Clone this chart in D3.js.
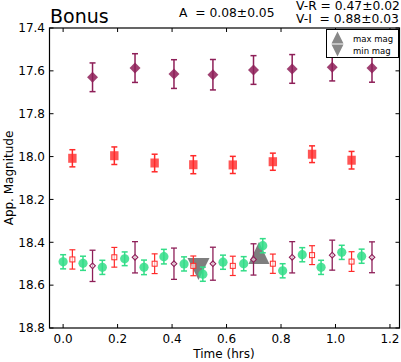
<!DOCTYPE html>
<html>
<head>
<meta charset="utf-8">
<script src="https://cdn.jsdelivr.net/npm/d3@7"></script>
<style>
  body { margin: 0; background: #fff; }
  svg { display: block; font-family: "DejaVu Sans", sans-serif; }
</style>
</head>
<body>
<div id="chart"></div>
<script>
const width = 401, height = 362;

// V band (green circles)
const vTime = [0.0, 0.073, 0.144, 0.226, 0.297, 0.37, 0.444, 0.513, 0.587, 0.663, 0.733, 0.806, 0.878, 0.947, 1.023, 1.096];
const vMag  = [18.491, 18.498, 18.517, 18.477, 18.517, 18.467, 18.501, 18.549, 18.493, 18.5, 18.416, 18.533, 18.458, 18.517, 18.447, 18.465];
const vErr  = [0.033, 0.033, 0.033, 0.032, 0.034, 0.034, 0.033, 0.033, 0.033, 0.033, 0.033, 0.033, 0.033, 0.033, 0.033, 0.033];

// R band (red squares), filled = measured, open = shifted by V-R
const rTime = [0.034, 0.188, 0.336, 0.478, 0.623, 0.77, 0.914, 1.059];
const rMag  = [18.008, 17.996, 18.03, 18.038, 18.039, 18.024, 17.989, 18.017];
const rErr  = [0.040, 0.041, 0.041, 0.042, 0.040, 0.040, 0.039, 0.041];
const rShiftMag = [18.48, 18.47, 18.50, 18.51, 18.51, 18.50, 18.46, 18.49];
const rShiftErr = [0.045, 0.046, 0.046, 0.046, 0.045, 0.045, 0.044, 0.046];

// I band (purple diamonds), filled = measured, open = shifted by V-I
const iTime = [0.108, 0.264, 0.407, 0.55, 0.699, 0.841, 0.988, 1.134];
const iMag  = [17.63, 17.587, 17.615, 17.618, 17.596, 17.591, 17.583, 17.587];
const iErr  = [0.067, 0.067, 0.067, 0.071, 0.067, 0.067, 0.064, 0.066];
const iShiftMag = [18.51, 18.47, 18.50, 18.50, 18.48, 18.47, 18.46, 18.47];
const iShiftErr = [0.073, 0.073, 0.073, 0.077, 0.073, 0.073, 0.070, 0.072];

// extrema
const maxTime = 0.719, maxMag = 18.45;
const minTime = 0.497, minMag = 18.525;

const yTicks = [17.4, 17.6, 17.8, 18.0, 18.2, 18.4, 18.6, 18.8];
const xTicks = [0.0, 0.2, 0.4, 0.6, 0.8, 1.0, 1.2];

const cGreen = "#33dd88", cRed = "#ff2a2a", cPurple = "#8e1f58";

const x = d3.scaleLinear().domain([-0.05, 1.235]).range([49.5, 399.5]);
const y = d3.scaleLinear().domain([17.4, 18.8]).range([28, 328]);

const svg = d3.select("#chart").append("svg")
    .attr("width", width)
    .attr("height", height);

function rows(t, m, e) {
  return t.map(function(d, i) { return {t: d, m: m[i], e: e[i]}; });
}

function triPath(cx, cy, w, h, up) {
  const s = up ? 1 : -1;
  return "M" + cx + "," + (cy - s * h / 2) +
         "L" + (cx - w / 2) + "," + (cy + s * h / 2) +
         "L" + (cx + w / 2) + "," + (cy + s * h / 2) + "Z";
}

// frame
svg.append("rect")
    .attr("x", x.range()[0]).attr("y", 28)
    .attr("width", x.range()[1] - x.range()[0]).attr("height", 300)
    .attr("fill", "none").attr("stroke", "#000").attr("stroke-width", 1.2);

// inward ticks on all four sides
const tickLen = 4;
yTicks.forEach(function(v) {
  svg.append("line").attr("x1", x.range()[0]).attr("x2", x.range()[0] + tickLen)
     .attr("y1", y(v)).attr("y2", y(v)).attr("stroke", "#000");
  svg.append("line").attr("x1", x.range()[1]).attr("x2", x.range()[1] - tickLen)
     .attr("y1", y(v)).attr("y2", y(v)).attr("stroke", "#000");
  svg.append("text").attr("x", 45).attr("y", y(v)).attr("dy", "0.36em")
     .attr("text-anchor", "end").attr("font-size", 12).text(d3.format(".1f")(v));
});
xTicks.forEach(function(v) {
  svg.append("line").attr("x1", x(v)).attr("x2", x(v))
     .attr("y1", 328).attr("y2", 328 - tickLen).attr("stroke", "#000");
  svg.append("line").attr("x1", x(v)).attr("x2", x(v))
     .attr("y1", 28).attr("y2", 28 + tickLen).attr("stroke", "#000");
  svg.append("text").attr("x", x(v)).attr("y", 343)
     .attr("text-anchor", "middle").attr("font-size", 12).text(d3.format(".1f")(v));
});

// axis labels
svg.append("text").attr("x", 224).attr("y", 358).attr("text-anchor", "middle")
   .attr("font-size", 12).text("Time (hrs)");
svg.append("text").attr("transform", "translate(13,178)rotate(-90)")
   .attr("text-anchor", "middle").attr("font-size", 12).text("App. Magnitude");

// titles
svg.append("text").attr("x", 50).attr("y", 23).attr("font-size", 19).text("Bonus");
svg.append("text").attr("x", 179).attr("y", 17).attr("font-size", 12.3).attr("xml:space", "preserve")
   .text("A  = 0.08\u00b10.05");
svg.append("text").attr("x", 296).attr("y", 9.5).attr("font-size", 12.3).text("V-R = 0.47\u00b10.02");
svg.append("text").attr("x", 296).attr("y", 22.5).attr("font-size", 12.3).attr("xml:space", "preserve")
   .text("V-I  = 0.88\u00b10.03");

// extrema markers
svg.append("path").attr("d", triPath(x(maxTime), y(maxMag), 21, 22, true))
   .attr("fill", "#707070").attr("fill-opacity", 0.9);
svg.append("path").attr("d", triPath(x(minTime), y(minMag), 22, 22, false))
   .attr("fill", "#707070").attr("fill-opacity", 0.9);

function errorBars(data, color, width) {
  const g = svg.append("g").attr("stroke", color).attr("stroke-width", width);
  data.forEach(function(d) {
    const cx = x(d.t), y0 = y(d.m - d.e), y1 = y(d.m + d.e);
    g.append("line").attr("x1", cx).attr("x2", cx).attr("y1", y0).attr("y2", y1);
    g.append("line").attr("x1", cx - 3).attr("x2", cx + 3).attr("y1", y0).attr("y2", y0);
    g.append("line").attr("x1", cx - 3).attr("x2", cx + 3).attr("y1", y1).attr("y2", y1);
  });
}

const vData = rows(vTime, vMag, vErr);
const rData = rows(rTime, rMag, rErr);
const rsData = rows(rTime, rShiftMag, rShiftErr);
const iData = rows(iTime, iMag, iErr);
const isData = rows(iTime, iShiftMag, iShiftErr);

// filled I diamonds
errorBars(iData, cPurple, 1.5);
svg.selectAll(".idia").data(iData).enter().append("path")
   .attr("d", d3.symbol().type(d3.symbolSquare).size(60))
   .attr("transform", function(d) { return "translate(" + x(d.t) + "," + y(d.m) + ")rotate(45)"; })
   .attr("fill", cPurple).attr("fill-opacity", 0.85);

// filled R squares
errorBars(rData, cRed, 1.5);
svg.selectAll(".rsq").data(rData).enter().append("rect")
   .attr("x", function(d) { return x(d.t) - 4.2; })
   .attr("y", function(d) { return y(d.m) - 4.5; })
   .attr("width", 8.4).attr("height", 9)
   .attr("fill", cRed).attr("fill-opacity", 0.8);

// open shifted R squares
errorBars(rsData, cRed, 1.2);
svg.selectAll(".rop").data(rsData).enter().append("rect")
   .attr("x", function(d) { return x(d.t) - 2.5; })
   .attr("y", function(d) { return y(d.m) - 2.5; })
   .attr("width", 5).attr("height", 5)
   .attr("fill", "#fff").attr("fill-opacity", 0.6).attr("stroke", cRed).attr("stroke-width", 1);

// open shifted I diamonds
errorBars(isData, cPurple, 1.3);
svg.selectAll(".iop").data(isData).enter().append("path")
   .attr("d", d3.symbol().type(d3.symbolSquare).size(16))
   .attr("transform", function(d) { return "translate(" + x(d.t) + "," + y(d.m) + ")rotate(45)"; })
   .attr("fill", "#fff").attr("fill-opacity", 0.6).attr("stroke", cPurple).attr("stroke-width", 1.1);

// V circles
errorBars(vData, cGreen, 1.5);
svg.selectAll(".vc").data(vData).enter().append("circle")
   .attr("cx", function(d) { return x(d.t); })
   .attr("cy", function(d) { return y(d.m); })
   .attr("r", 4.6)
   .attr("fill", cGreen).attr("fill-opacity", 0.85);

// legend
const lg = svg.append("g");
lg.append("rect").attr("x", 326.5).attr("y", 29.5).attr("width", 72).attr("height", 28)
  .attr("fill", "#fff").attr("stroke", "#000").attr("stroke-width", 1);
lg.append("path").attr("d", triPath(337.5, 37.5, 12, 12, true)).attr("fill", "#888");
lg.append("path").attr("d", triPath(337.5, 50.5, 12, 12, false)).attr("fill", "#888");
lg.append("text").attr("x", 353).attr("y", 41.5).attr("font-size", 8.5).text("max mag");
lg.append("text").attr("x", 353).attr("y", 54).attr("font-size", 8.5).text("min mag");
</script>
</body>
</html>
